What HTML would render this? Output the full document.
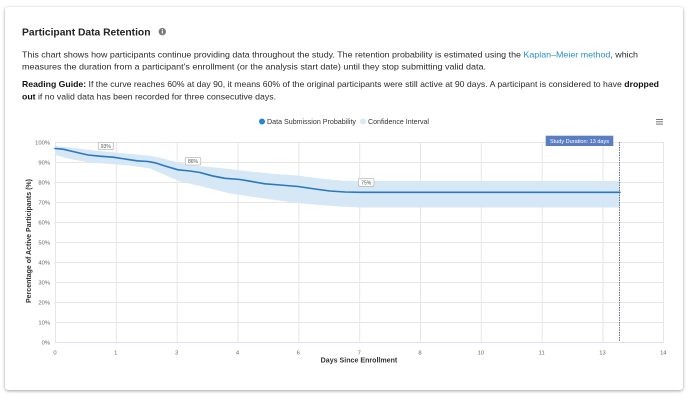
<!DOCTYPE html>
<html>
<head>
<meta charset="utf-8">
<style>
  html,body{margin:0;padding:0;background:#ffffff;}
  body{width:690px;height:400px;position:relative;overflow:hidden;font-family:"Liberation Sans",Arial,sans-serif;}
  .card{position:absolute;left:5px;top:7px;width:678px;height:383px;background:#fff;border-radius:3px;box-shadow:0 1px 3px rgba(0,0,0,0.35),0 0 1px rgba(0,0,0,0.12);}
  svg{position:absolute;left:0;top:0;}
</style>
</head>
<body>
<div class="card"></div>
<svg width="690" height="400" viewBox="0 0 690 400" xmlns="http://www.w3.org/2000/svg" font-family="Liberation Sans, Arial, sans-serif">
  <!-- Title -->
  <text x="22" y="35.3" font-size="10.5" font-weight="bold" fill="#222" textLength="128.5" lengthAdjust="spacingAndGlyphs">Participant Data Retention</text>
  <circle cx="162.3" cy="31.6" r="3.7" fill="#7a7a7a"/>
  <rect x="161.8" y="30.6" width="1.1" height="3" fill="#fff"/>
  <rect x="161.8" y="29" width="1.1" height="1" fill="#fff"/>

  <!-- Paragraph -->
  <text x="22" y="57.3" font-size="8.2" fill="#2a2a2a" textLength="616" lengthAdjust="spacingAndGlyphs">This chart shows how participants continue providing data throughout the study. The retention probability is estimated using the <tspan fill="#2a8bcc">Kaplan–Meier method</tspan>, which</text>
  <text x="22" y="69.7" font-size="8.2" fill="#2a2a2a" textLength="464" lengthAdjust="spacingAndGlyphs">measures the duration from a participant's enrollment (or the analysis start date) until they stop submitting valid data.</text>
  <text x="22" y="87" font-size="8.2" fill="#2a2a2a" textLength="637" lengthAdjust="spacingAndGlyphs"><tspan font-weight="bold" fill="#111">Reading Guide:</tspan> If the curve reaches 60% at day 90, it means 60% of the original participants were still active at 90 days. A participant is considered to have <tspan font-weight="bold" fill="#111">dropped</tspan></text>
  <text x="22" y="99.7" font-size="8.2" fill="#2a2a2a" textLength="254" lengthAdjust="spacingAndGlyphs"><tspan font-weight="bold" fill="#111">out</tspan> if no valid data has been recorded for three consecutive days.</text>

  <!-- Legend -->
  <circle cx="262" cy="121.5" r="3" fill="#2b86cf"/>
  <text x="267" y="124" font-size="7.2" fill="#333" textLength="89" lengthAdjust="spacingAndGlyphs">Data Submission Probability</text>
  <circle cx="363" cy="121.5" r="3" fill="#dbe7f4"/>
  <text x="368" y="124" font-size="7.2" fill="#333" textLength="61" lengthAdjust="spacingAndGlyphs">Confidence Interval</text>

  <!-- Hamburger -->
  <g stroke="#777" stroke-width="1">
    <line x1="656" y1="119.5" x2="663" y2="119.5"/>
    <line x1="656" y1="121.8" x2="663" y2="121.8"/>
    <line x1="656" y1="124.1" x2="663" y2="124.1"/>
  </g>

  <!-- Grid -->
  <g stroke="#e6e6e6" stroke-width="1">
    <line x1="55" y1="142.5" x2="663.5" y2="142.5"/>
    <line x1="55" y1="162.5" x2="663.5" y2="162.5"/>
    <line x1="55" y1="182.5" x2="663.5" y2="182.5"/>
    <line x1="55" y1="202.5" x2="663.5" y2="202.5"/>
    <line x1="55" y1="222.5" x2="663.5" y2="222.5"/>
    <line x1="55" y1="242.5" x2="663.5" y2="242.5"/>
    <line x1="55" y1="262.5" x2="663.5" y2="262.5"/>
    <line x1="55" y1="282.5" x2="663.5" y2="282.5"/>
    <line x1="55" y1="302.5" x2="663.5" y2="302.5"/>
    <line x1="55" y1="322.5" x2="663.5" y2="322.5"/>

    <line x1="55.5" y1="142" x2="55.5" y2="342"/>
    <line x1="116.3" y1="142" x2="116.3" y2="342"/>
    <line x1="177.2" y1="142" x2="177.2" y2="342"/>
    <line x1="238" y1="142" x2="238" y2="342"/>
    <line x1="298.8" y1="142" x2="298.8" y2="342"/>
    <line x1="359.7" y1="142" x2="359.7" y2="342"/>
    <line x1="420.5" y1="142" x2="420.5" y2="342"/>
    <line x1="481.3" y1="142" x2="481.3" y2="342"/>
    <line x1="542.2" y1="142" x2="542.2" y2="342"/>
    <line x1="603" y1="142" x2="603" y2="342"/>
    <line x1="663.5" y1="142" x2="663.5" y2="342"/>
  </g>
  <line x1="55" y1="342.5" x2="663.5" y2="342.5" stroke="#dde3ee" stroke-width="1"/>

  <!-- Y labels -->
  <g font-size="5.8" fill="#666" text-anchor="end">
    <text x="50" y="144.5">100%</text>
    <text x="50" y="164.5">90%</text>
    <text x="50" y="184.5">80%</text>
    <text x="50" y="204.5">70%</text>
    <text x="50" y="224.5">60%</text>
    <text x="50" y="244.5">50%</text>
    <text x="50" y="264.5">40%</text>
    <text x="50" y="284.5">30%</text>
    <text x="50" y="304.5">20%</text>
    <text x="50" y="324.5">10%</text>
    <text x="50" y="344.5">0%</text>
  </g>

  <!-- X labels -->
  <g font-size="5.8" fill="#666" text-anchor="middle">
    <text x="55" y="354.5">0</text>
    <text x="115.8" y="354.5">1</text>
    <text x="176.7" y="354.5">3</text>
    <text x="237.5" y="354.5">4</text>
    <text x="298.3" y="354.5">6</text>
    <text x="359.2" y="354.5">7</text>
    <text x="420" y="354.5">8</text>
    <text x="480.8" y="354.5">10</text>
    <text x="541.7" y="354.5">11</text>
    <text x="602.5" y="354.5">13</text>
    <text x="663.3" y="354.5">14</text>
  </g>

  <!-- Axis titles -->
  <text x="359" y="362.5" font-size="7" font-weight="bold" fill="#333" text-anchor="middle" textLength="76.6" lengthAdjust="spacingAndGlyphs">Days Since Enrollment</text>
  <text transform="translate(31.2,241) rotate(-90)" x="0" y="0" font-size="7" font-weight="bold" fill="#333" text-anchor="middle" textLength="124" lengthAdjust="spacingAndGlyphs">Percentage of Active Participants (%)</text>

  <!-- Confidence band -->
  <polygon fill="#d4e6f6" fill-opacity="0.95" points="55,146 70,147.5 90,150 110,152 130,154 150,155.7 165,159 180,163 200,166 225,168.5 250,171.5 275,174 297,175.5 320,178.5 343,180.7 360,181 620,181 620,207.5 360,207.5 343,206.7 320,205 297,203 275,200 250,196.5 230,193.5 200,186 180,181.5 165,175 150,168.5 130,165.5 110,164 90,162.5 70,159 55,155"/>

  <!-- Survival line -->
  <polyline fill="none" stroke="#2a78bd" stroke-width="1.6" stroke-linejoin="round" stroke-linecap="round" points="55,148.5 63,149.2 75,152 88,155 100,156.2 113,157.2 125,159 137,160.8 148,161.5 155,162.8 165,166 178,169.8 190,171 200,172.5 212,175.8 225,178.3 240,179.5 250,181.2 265,183.8 280,185 298,186.5 315,189 330,191 345,192 360,192.3 620,192.3"/>

  <!-- Data labels -->
  <g font-size="5" fill="#555" text-anchor="middle">
    <rect x="98.2" y="142.3" width="15.2" height="7.4" rx="1.5" fill="#fff" fill-opacity="0.9" stroke="#aaa" stroke-width="0.6"/>
    <text x="105.8" y="148">93%</text>
    <rect x="185.2" y="157.4" width="15.6" height="7.6" rx="1.5" fill="#fff" fill-opacity="0.9" stroke="#aaa" stroke-width="0.6"/>
    <text x="193" y="163.1">86%</text>
    <rect x="358.4" y="178.4" width="15.6" height="8" rx="1.5" fill="#fff" fill-opacity="0.9" stroke="#aaa" stroke-width="0.6"/>
    <text x="366.2" y="184.3">75%</text>
  </g>

  <!-- Study duration line -->
  <line x1="619.5" y1="142" x2="619.5" y2="342" stroke="#5a6378" stroke-width="0.9" stroke-dasharray="1.5,1"/>
  <rect x="545.7" y="135.7" width="67.6" height="10.3" fill="#5b7dc1"/>
  <text x="579.5" y="142.8" font-size="5.6" fill="#fff" text-anchor="middle" textLength="59" lengthAdjust="spacingAndGlyphs">Study Duration: 13 days</text>
</svg>
</body>
</html>
